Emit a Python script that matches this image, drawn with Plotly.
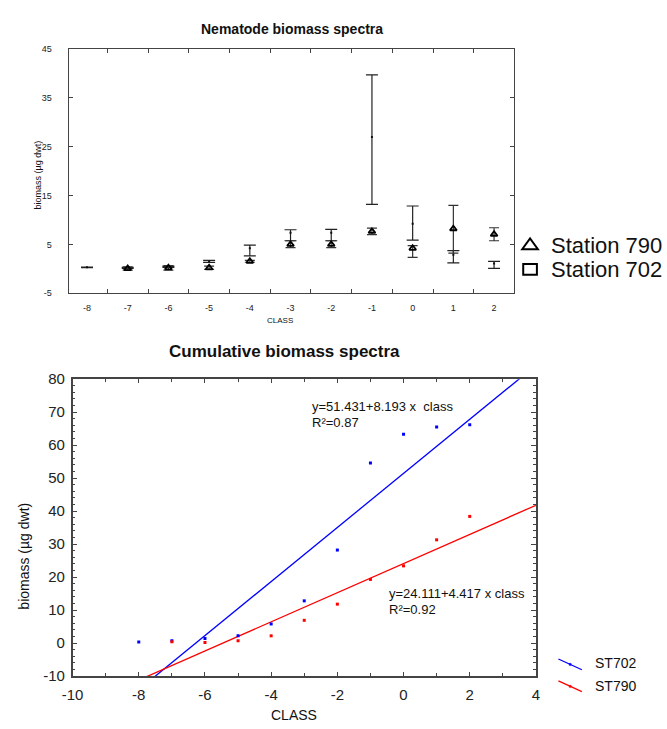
import plotly.graph_objects as go

# ---------------- data ----------------
classes = [-8, -7, -6, -5, -4, -3, -2, -1, 0, 1, 2]
class_labels = ["-8", "-7", "-6", "-5", "-4", "-3", "-2", "-1", "0", "1", "2"]
top_y_ticks = [-5, 5, 15, 25, 35, 45]
top_y_labels = ["-5", "5", "15", "25", "35", "45"]

# Nematode biomass spectra (mean and whisker bounds, µg dwt)
st702_mean = [0.3, 0.2, 0.4, 1.5, 4.2, 7.4, 7.4, 27.0, 9.2, 2.9, 1.1]
st702_high = [0.35, 0.3, 0.55, 1.74, 4.86, 8.0, 8.06, 39.7, 12.86, 3.74, 1.53]
st702_low = [0.25, 0.1, 0.3, 1.3, 2.66, 5.74, 5.74, 13.2, 5.86, 1.2, 0.07]

st790_mean = [None, 0.05, 0.2, 0.2, 1.53, 5.0, 5.0, 7.66, 4.2, 8.2, 7.07]
st790_high = [None, 0.4, 0.66, 0.53, 1.74, 5.74, 5.74, 8.33, 4.74, 13.0, 8.4]
st790_low = [None, -0.26, -0.26, -0.13, 1.34, 4.34, 4.34, 7.0, 2.34, 3.2, 5.74]

# Cumulative biomass spectra
cum702_class = [-8, -7, -6, -5, -4, -3, -2, -1, 0, 1, 2]
cum702 = [0.3, 0.7, 1.4, 2.2, 5.8, 12.8, 28.2, 54.6, 63.3, 65.5, 66.2]
cum790_class = [-7, -6, -5, -4, -3, -2, -1, 0, 1, 2]
cum790 = [0.4, 0.2, 0.7, 2.2, 6.9, 11.8, 19.3, 23.4, 31.3, 38.4]

fit702 = (51.431, 8.193)   # intercept, slope
fit790 = (24.111, 4.417)
fit_x = [-10, 4]

bot_x_ticks = [-10, -8, -6, -4, -2, 0, 2, 4]
bot_x_labels = ["-10", "-8", "-6", "-4", "-2", "0", "2", "4"]
bot_y_ticks = [-10, 0, 10, 20, 30, 40, 50, 60, 70, 80]
bot_y_labels = ["-10", "0", "10", "20", "30", "40", "50", "60", "70", "80"]

# ---------------- layout helpers ----------------
W, H = 667, 729
def px(x):
    return x / W
def py(y):
    return 1 - y / H

FONT = "Liberation Sans, Arial, sans-serif"
AX = "#444444"

def err_up(m, h):
    return [None if a is None else b - a for a, b in zip(m, h)]
def err_dn(m, l):
    return [None if a is None else a - b for a, b in zip(m, l)]

fig = go.Figure()

# top chart
fig.add_trace(go.Scatter(
    x=classes, y=st702_mean, mode="markers", xaxis="x", yaxis="y",
    marker=dict(symbol="square", size=2, color="#111"),
    error_y=dict(type="data", symmetric=False,
                 array=err_up(st702_mean, st702_high),
                 arrayminus=err_dn(st702_mean, st702_low),
                 color="#222", thickness=1.2, width=6),
    name="Station 702", showlegend=False))
fig.add_trace(go.Scatter(
    x=classes, y=st790_mean, mode="markers", xaxis="x", yaxis="y",
    marker=dict(symbol="triangle-up-open", size=6, color="#000",
                line=dict(width=1.8, color="#000")),
    error_y=dict(type="data", symmetric=False,
                 array=err_up(st790_mean, st790_high),
                 arrayminus=err_dn(st790_mean, st790_low),
                 color="#333", thickness=1.2, width=5),
    name="Station 790", showlegend=False))

# bottom chart
fig.add_trace(go.Scatter(
    x=fit_x, y=[fit702[0] + fit702[1] * v for v in fit_x], mode="lines",
    xaxis="x2", yaxis="y2", line=dict(color="#0000ff", width=1.3),
    showlegend=False))
fig.add_trace(go.Scatter(
    x=fit_x, y=[fit790[0] + fit790[1] * v for v in fit_x], mode="lines",
    xaxis="x2", yaxis="y2", line=dict(color="#ff0000", width=1.3),
    showlegend=False))
fig.add_trace(go.Scatter(
    x=cum702_class, y=cum702, mode="markers", xaxis="x2", yaxis="y2",
    marker=dict(symbol="square", size=3, color="#0000ff"),
    name="ST702", showlegend=False))
fig.add_trace(go.Scatter(
    x=cum790_class, y=cum790, mode="markers", xaxis="x2", yaxis="y2",
    marker=dict(symbol="square", size=3, color="#ff0000"),
    name="ST790", showlegend=False))

top_font = dict(family=FONT, size=9, color="#222")
bot_font = dict(family=FONT, size=15, color="#222")

fig.update_layout(
    width=W, height=H, margin=dict(l=0, r=0, t=0, b=0),
    paper_bgcolor="white", plot_bgcolor="white",
    showlegend=False,
    xaxis=dict(domain=[px(59), px(515)], range=[-8.45, 2.5],
               tickvals=classes, ticktext=class_labels,
               ticks="inside", ticklen=0,
               minor=dict(tickvals=[c + 0.5 for c in classes[:-1]],
                          ticks="inside", ticklen=4, tickcolor=AX),
               showline=True, linecolor=AX, linewidth=1.3, mirror="ticks",
               showgrid=False, zeroline=False, tickfont=top_font,
               ticklabelstandoff=6, anchor="y"),
    yaxis=dict(domain=[py(291), py(41)], range=[-5, 45],
               tickvals=top_y_ticks, ticktext=top_y_labels,
               ticks="inside", ticklen=4, tickcolor=AX,
               showline=True, linecolor=AX, linewidth=1.3, mirror="ticks",
               showgrid=False, zeroline=False, tickfont=top_font,
               ticklabelstandoff=14, anchor="x"),
    xaxis2=dict(domain=[px(63), px(537)], range=[-10, 4],
                tickvals=bot_x_ticks, ticktext=bot_x_labels,
                ticks="inside", ticklen=4, tickcolor=AX,
                minor=dict(dtick=1, ticks="inside", ticklen=3, tickcolor=AX),
                showline=True, linecolor=AX, linewidth=1.5, mirror="ticks",
                showgrid=False, zeroline=False, tickfont=bot_font,
                ticklabelstandoff=4, anchor="y2"),
    yaxis2=dict(domain=[py(683), py(379)], range=[-10, 80],
                tickvals=bot_y_ticks, ticktext=bot_y_labels,
                ticks="inside", ticklen=5, tickcolor=AX,
                minor=dict(dtick=2, ticks="inside", ticklen=3, tickcolor=AX),
                showline=True, linecolor=AX, linewidth=1.5, mirror="ticks",
                showgrid=False, zeroline=False, tickfont=bot_font,
                ticklabelstandoff=3, anchor="x2"),
)

ann = []
def text(x, y, s, size, xanchor="center", bold=False, angle=0,
         xref="paper", yref="paper", color="#111"):
    ann.append(dict(x=x, y=y, xref=xref, yref=yref, text=s, showarrow=False,
                    xanchor=xanchor, yanchor="middle", textangle=angle,
                    font=dict(family=FONT, size=size, color=color,
                              weight="bold" if bold else "normal")))

# titles and axis labels
text(px(287), py(20), "Nematode biomass spectra", 14, bold=True)
text(px(275), py(319), "CLASS", 8)
text(px(28), py(170), "biomass (µg dwt)", 9, angle=-90)
text(px(280), py(351), "Cumulative biomass spectra", 17, bold=True)
text(px(290), py(723), "CLASS", 14)
text(px(13), py(560), "biomass (µg dwt)", 14, angle=-90)

# top legend
text(px(550), py(242), "Station 790", 22, xanchor="left")
text(px(550), py(267), "Station 702", 22, xanchor="left")

# regression equations
text(-2.82, 71.8, "y=51.431+8.193 x\u00a0 class", 13, xanchor="left",
     xref="x2", yref="y2")
text(-2.82, 66.8, "R²=0.87", 13, xanchor="left", xref="x2", yref="y2")
text(-0.49, 15.1, "y=24.111+4.417 x class", 13, xanchor="left",
     xref="x2", yref="y2")
text(-0.49, 10.3, "R²=0.92", 13, xanchor="left", xref="x2", yref="y2")

# bottom legend labels
text(px(595), py(670), "ST702", 14, xanchor="left")
text(px(595), py(693), "ST790", 14, xanchor="left")
fig.update_layout(annotations=ann)

shapes = []
# top legend glyphs
shapes.append(dict(type="path", xref="paper", yref="paper",
                   path=f"M {px(523)} {py(246)} L {px(539)} {py(246)} "
                        f"L {px(531)} {py(235)} Z",
                   line=dict(color="#000", width=2), fillcolor="white"))
shapes.append(dict(type="rect", xref="paper", yref="paper",
                   x0=px(524), x1=px(538), y0=py(272), y1=py(261),
                   line=dict(color="#000", width=2), fillcolor="white"))
# bottom legend glyphs
for (y0, y1, col) in [(665.5, 676.5, "#0000ff"), (688, 699, "#ff0000")]:
    shapes.append(dict(type="line", xref="paper", yref="paper",
                       x0=px(560), y0=py(y0), x1=px(584), y1=py(y1),
                       line=dict(color=col, width=1.3)))
    my = (y0 + y1) / 2
    shapes.append(dict(type="rect", xref="paper", yref="paper",
                       x0=px(571), x1=px(573), y0=py(my + 1), y1=py(my - 1),
                       line=dict(color=col, width=0.5), fillcolor=col))
fig.update_layout(shapes=shapes)

fig.write_html("out.html")
